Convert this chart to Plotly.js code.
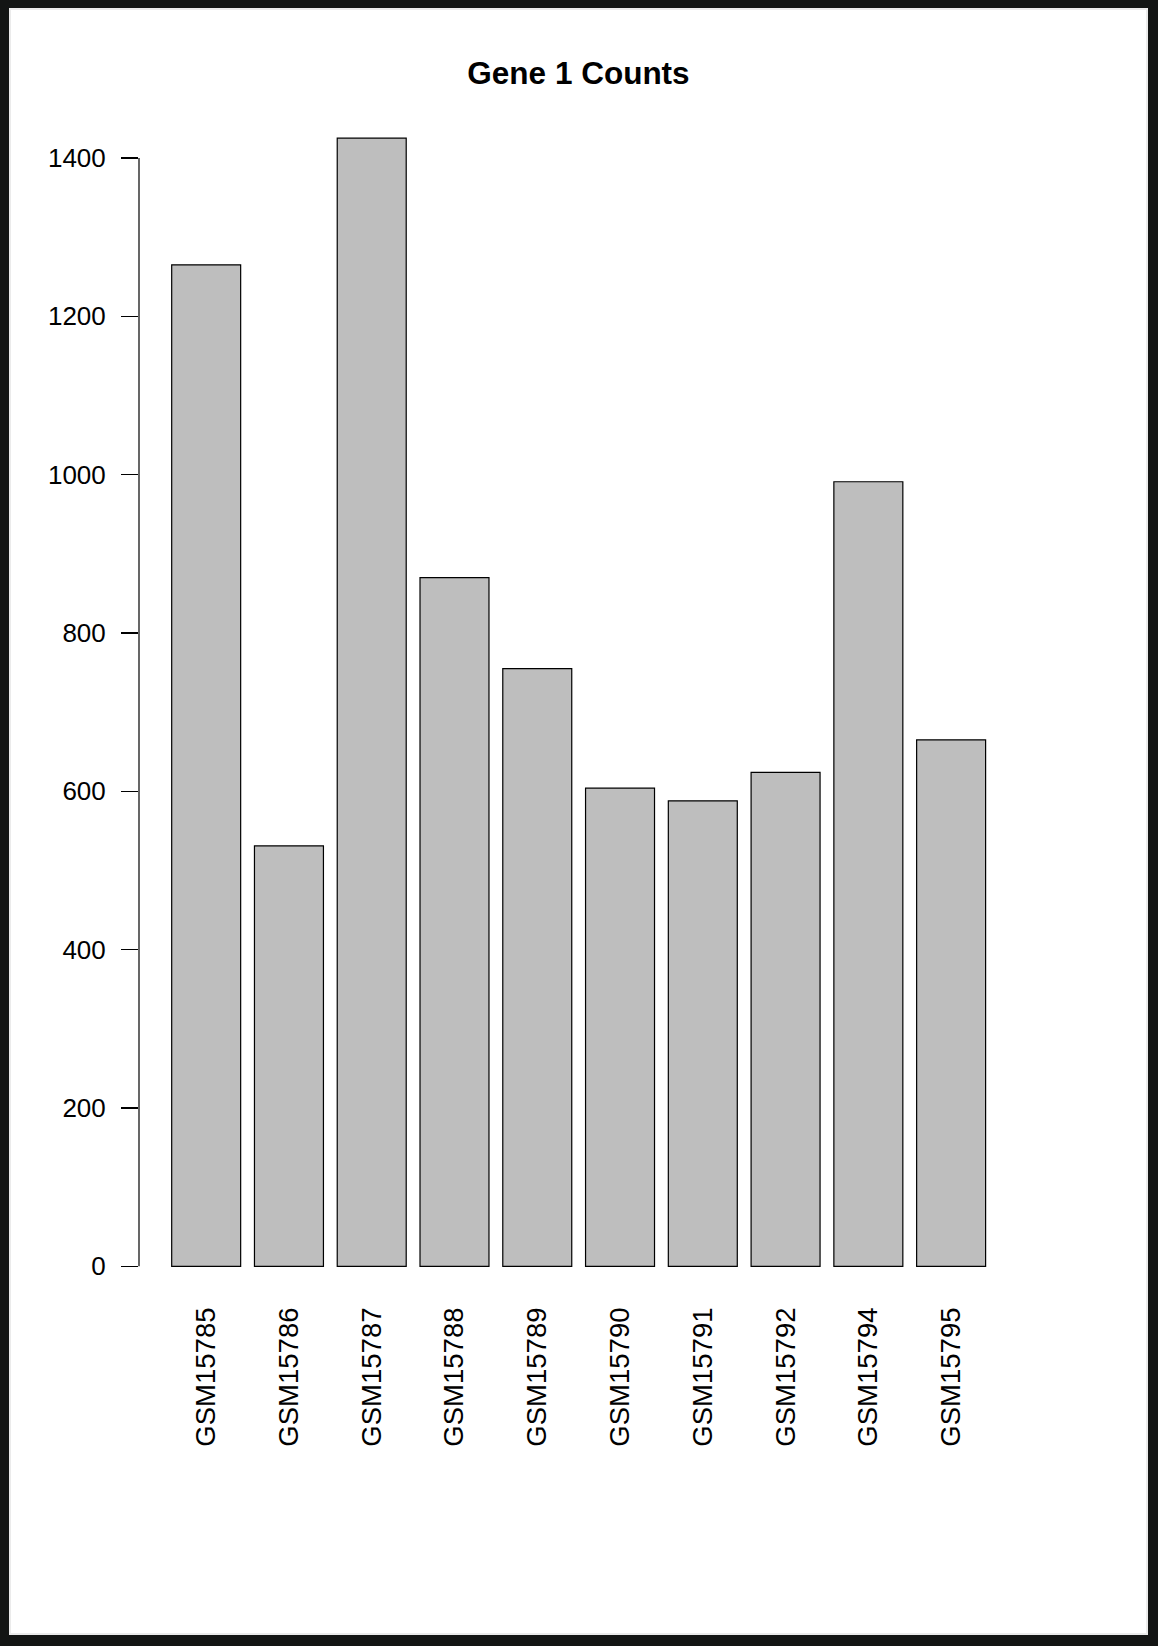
<!DOCTYPE html>
<html>
<head>
<meta charset="utf-8">
<script src="https://cdn.plot.ly/plotly-3.0.1.min.js"></script>
<style>
  html, body { margin: 0; padding: 0; background: #131514; }
  #wrap { position: absolute; left: 0; top: 0; width: 1158px; height: 1646px; background: #ffffff; }
  #chart { position: absolute; left: 0; top: 0; width: 1158px; height: 1646px; }
  #frame {
    position: absolute; left: 0; top: 0; width: 1158px; height: 1646px;
    box-sizing: border-box; pointer-events: none;
    border-style: solid; border-color: #131514;
    border-width: 8px 10px 11px 9px;
  }
  #inner {
    position: absolute; left: 0; top: 0; right: 0; bottom: 0;
    box-shadow: inset 0 0 0 2px #ebebeb;
  }
</style>
</head>
<body>
<div id="wrap">
  <div id="chart"></div>
  <div id="frame"><div id="inner"></div></div>
</div>
<script>
const samples = ["GSM15785", "GSM15786", "GSM15787", "GSM15788", "GSM15789",
                 "GSM15790", "GSM15791", "GSM15792", "GSM15794", "GSM15795"];
const counts = [1265, 531, 1425, 870, 755, 604, 588, 624, 991, 665];
const yTickValues = [0, 200, 400, 600, 800, 1000, 1200, 1400];
const chartTitle = "Gene 1 Counts";

const FONT = "Liberation Sans, Arial, Helvetica, sans-serif";

const trace = {
  type: "bar",
  x: samples,
  y: counts,
  marker: { color: "#bebebe", line: { color: "#000000", width: 1.2 } },
  hoverinfo: "x+y"
};

const layout = {
  width: 1158,
  height: 1646,
  paper_bgcolor: "rgba(0,0,0,0)",
  plot_bgcolor: "rgba(0,0,0,0)",
  margin: { l: 139, r: 140, t: 93, b: 345, pad: 0 },
  showlegend: false,
  bargap: 0.1667,
  font: { family: FONT, color: "#000000", size: 26 },
  title: {
    text: "<b>" + chartTitle + "</b>",
    font: { family: FONT, size: 31.5, color: "#000000" },
    xref: "paper", x: 0.5, xanchor: "center",
    yref: "container", y: 1 - 73 / 1646, yanchor: "middle"
  },
  xaxis: {
    type: "category",
    range: [-0.8116, 9.808],
    showline: false, showgrid: false, zeroline: false,
    ticks: "", ticklen: 0,
    tickangle: -90,
    tickfont: { family: FONT, size: 27.5, color: "#000000" },
    automargin: false
  },
  yaxis: {
    range: [-43.8, 1482],
    tickvals: yTickValues,
    ticktext: yTickValues.map(String),
    ticks: "outside", ticklen: 17, tickwidth: 1.2, tickcolor: "#000000",
    ticklabelstandoff: 10,
    showline: false, showgrid: false, zeroline: false,
    tickfont: { family: FONT, size: 26, color: "#000000" },
    automargin: false
  },
  shapes: [
    {
      type: "line", xref: "paper", yref: "y",
      x0: 0, x1: 0, y0: yTickValues[0], y1: yTickValues[yTickValues.length - 1],
      line: { color: "#000000", width: 1.2 }
    }
  ]
};

Plotly.newPlot("chart", [trace], layout, { displayModeBar: false, staticPlot: true });
</script>
</body>
</html>
